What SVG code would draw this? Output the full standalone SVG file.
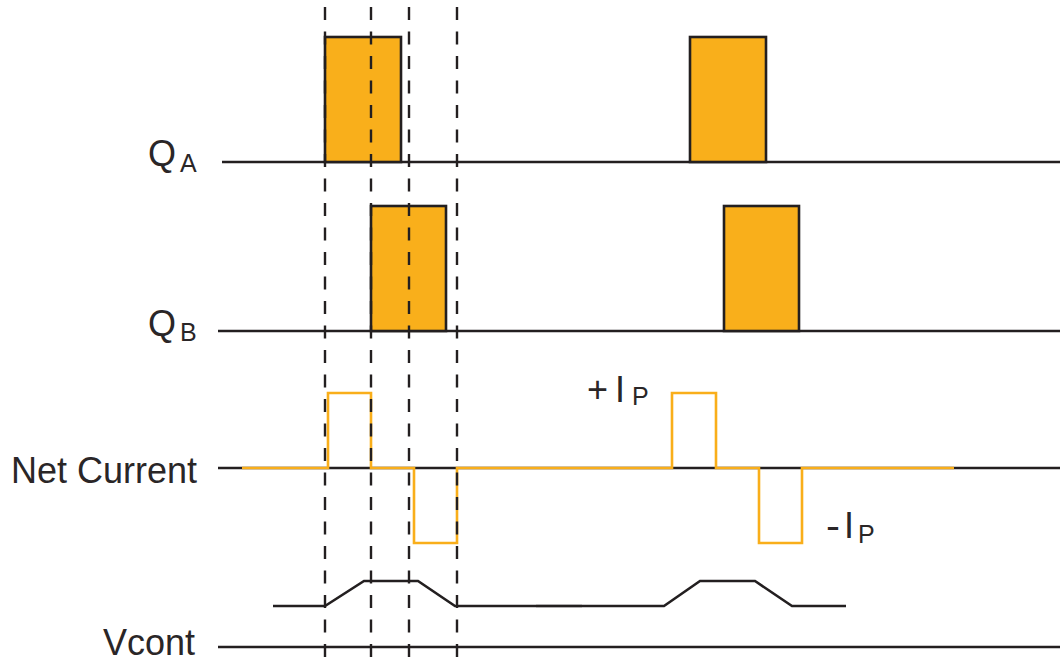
<svg xmlns="http://www.w3.org/2000/svg" width="1060" height="664" viewBox="0 0 1060 664">
<style>
.base{stroke:#231f20;stroke-width:2.6;fill:none}
.pulse{fill:#f9af1b;stroke:#231f20;stroke-width:2.6}
.cur{stroke:#f9ae1a;stroke-width:2.6;fill:none}
.dash{stroke:#231f20;stroke-width:2.4;stroke-dasharray:13 11.5;fill:none}
.sig{stroke:#231f20;stroke-width:2.6;fill:none;stroke-linejoin:miter}
.lbl{font-family:"Liberation Sans",Arial,sans-serif;font-size:36px;fill:#2a2627}
.sub{font-family:"Liberation Sans",Arial,sans-serif;font-size:25px;fill:#2a2627}
</style>
<rect width="1060" height="664" fill="#fff"/>
<g id="qa">
<text class="lbl" x="148" y="166">Q</text><text class="sub" x="180" y="172">A</text>
<line class="base" x1="222" y1="162" x2="1060" y2="162"/>
<rect class="pulse" x="325" y="37" width="76" height="125"/>
<rect class="pulse" x="690" y="37" width="76" height="125"/>
</g>
<g id="qb">
<text class="lbl" x="148" y="336">Q</text><text class="sub" x="180" y="341">B</text>
<line class="base" x1="218" y1="331" x2="1060" y2="331"/>
<rect class="pulse" x="371" y="206" width="75" height="125"/>
<rect class="pulse" x="724" y="206" width="75" height="125"/>
</g>
<g id="net">
<text class="lbl" x="11" y="483">Net Current</text>
<line class="base" x1="218" y1="468" x2="1060" y2="468"/>
<path class="cur" d="M242 468 H328 V393 H371 V468 H414 V543 H457 V468 H672 V393 H716 V468 H759 V543 H802 V468 H954"/>
<text class="lbl" x="587" y="402">+</text><text class="lbl" x="615" y="402">I</text><text class="sub" x="632" y="405">P</text>
<text class="lbl" x="826" y="538" textLength="14" lengthAdjust="spacingAndGlyphs">-</text><text class="lbl" x="844" y="538">I</text><text class="sub" x="858" y="543">P</text>
</g>
<g id="vcont">
<text class="lbl" x="103" y="655">Vcont</text>
<line class="base" x1="218" y1="647" x2="1060" y2="647"/>
<path class="sig" d="M273 606 H325 L364 581 H418 L455 606 H664 L700 581 H755 L792 606 H846"/>
<line class="sig" x1="536" y1="606" x2="582" y2="606" stroke-opacity="0.6"/>
</g>
<g id="connectors">
<line class="dash" x1="325" y1="7" x2="325" y2="657"/>
<line class="dash" x1="371" y1="7" x2="371" y2="657"/>
<line class="dash" x1="409" y1="7" x2="409" y2="657"/>
<line class="dash" x1="457" y1="7" x2="457" y2="657"/>
</g>
</svg>
